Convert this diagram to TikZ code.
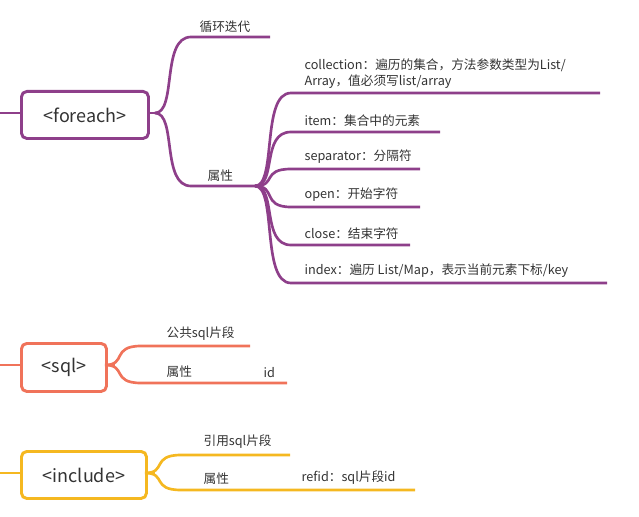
\documentclass[tikz,border=0pt]{standalone}
\usepackage{fontspec}
\setmainfont{Noto Sans CJK SC}
\definecolor{pur}{HTML}{8E3F8A}
\definecolor{sal}{HTML}{F0735A}
\definecolor{org}{HTML}{F5B820}
\definecolor{txt}{HTML}{333333}
\tikzset{x=0.75pt,y=-0.75pt,
 box/.style={draw,line width=2.2pt,rounded corners=4pt,fill=white,anchor=north west,font=\fontsize{13.5}{15}\selectfont,text=txt,inner sep=0pt},
 br/.style={line width=2pt},
 lbl/.style={anchor=south west,font=\fontsize{9.5}{12}\selectfont,text=txt,inner sep=1pt,align=left}}
\newcommand{\bra}[5]{\draw[br,#1] (#2,#3) .. controls (#2+22,#3) and (#2+6,#5) .. (#2+36,#5) -- (#4,#5);}
\begin{document}
\begin{tikzpicture}
\useasboundingbox (0,0) rectangle (639,517);
% foreach
\draw[br,pur] (0,113) -- (160,113);
\node[box,draw=pur,minimum width=127*0.75pt,minimum height=47*0.75pt] (fe) at (20,90) {<foreach>};
\bra{pur}{155}{113}{270}{37}
\bra{pur}{155}{113}{258}{186}
\node[lbl] (t1) at (198,34) {循环迭代};
\node[lbl] (t2) at (206,183) {属性};
\bra{pur}{255}{186}{600}{93}
\bra{pur}{255}{186}{440}{132}
\bra{pur}{255}{186}{420}{169}
\bra{pur}{255}{186}{420}{207}
\bra{pur}{255}{186}{410}{245}
\bra{pur}{255}{186}{607}{283}
\node[lbl] at (303,90) {collection：遍历的集合，方法参数类型为List/\\Array，值必须写list/array};
\node[lbl] at (303,128) {item：集合中的元素};
\node[lbl] at (303,165) {separator：分隔符};
\node[lbl] at (303,203) {open：开始字符};
\node[lbl] at (303,241) {close：结束字符};
\node[lbl] at (303,279) {index：遍历 List/Map，表示当前元素下标/key};
% sql
\draw[br,sal] (0,365) -- (115,365);
\node[box,draw=sal,minimum width=85*0.75pt,minimum height=48*0.75pt] (sq) at (20,342) {<sql>};
\bra{sal}{105}{365}{250}{346}
\bra{sal}{105}{365}{287}{383}
\node[lbl] at (165,342) {公共sql片段};
\node[lbl] at (165,379) {属性};
\node[lbl] at (262,379) {id};
% include
\draw[br,org] (0,473) -- (155,473);
\node[box,draw=org,minimum width=125*0.75pt,minimum height=47*0.75pt] (in) at (20,450) {<include>};
\bra{org}{145}{473}{290}{455}
\bra{org}{145}{473}{415}{490}
\node[lbl] at (202,450) {引用sql片段};
\node[lbl] at (202,486) {属性};
\node[lbl] at (300,486) {refid：sql片段id};
\end{tikzpicture}
\end{document}
